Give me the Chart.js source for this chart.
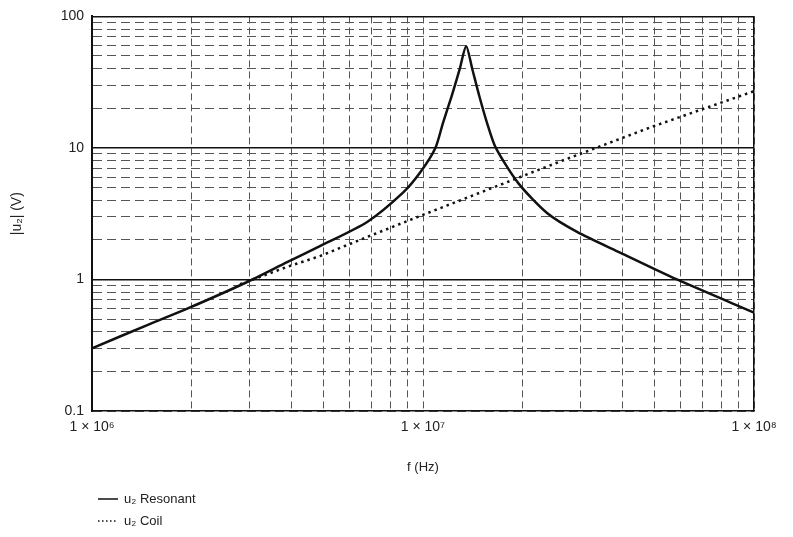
<!DOCTYPE html>
<html>
<head>
<meta charset="utf-8">
<script src="https://cdn.jsdelivr.net/npm/chart.js@4/dist/chart.umd.min.js"></script>
<style>
  html, body { margin: 0; padding: 0; background: #fff; }
  #wrap { width: 793px; height: 537px; }
</style>
</head>
<body>
<div id="wrap"><canvas id="myChart" width="793" height="537"></canvas></div>
<script>
// values (f in Hz, |u2| in V)
const resonantFreq = [1e6, 1.5e6, 1.94e6, 2.9e6, 3.9e6, 4.9e6, 6.8e6, 8.7e6, 9.8e6,
  1.09e7, 1.15e7, 1.22e7, 1.29e7, 1.35e7, 1.41e7, 1.48e7, 1.56e7, 1.66e7,
  1.94e7, 2.37e7, 2.92e7, 3.94e7, 5.85e7, 1e8];
const resonantVolt = [0.30, 0.46, 0.60, 0.94, 1.36, 1.80, 2.75, 4.57, 6.5,
  10, 15.6, 24.7, 39.5, 59.4, 39.5, 24.7, 15.6, 10,
  5.4, 3.2, 2.3, 1.6, 1.0, 0.56];
const coilFreq = [2.8e6, 3.9e6, 4.9e6, 6.8e6, 1e7, 2.6e7, 4.85e7, 1e8];
const coilVolt = [0.92, 1.25, 1.51, 2.11, 3.1, 7.9, 14.3, 27];

const xGrid = [1e6, 2e6, 3e6, 4e6, 5e6, 6e6, 7e6, 8e6, 9e6,
  1e7, 2e7, 3e7, 4e7, 5e7, 6e7, 7e7, 8e7, 9e7, 1e8];
const yGrid = [0.1, 0.2, 0.3, 0.4, 0.5, 0.6, 0.7, 0.8, 0.9,
  1, 2, 3, 4, 5, 6, 7, 8, 9,
  10, 20, 30, 40, 50, 60, 70, 80, 90, 100];
const xMajor = [1e6, 1e7, 1e8];
const xMajorLabels = ["1 × 10⁶", "1 × 10⁷", "1 × 10⁸"];
const yMajor = [0.1, 1, 10, 100];
const yMajorLabels = ["0.1", "1", "10", "100"];
// lines that are drawn solid in the original frame
const xSolid = [1e6, 1e8];
const ySolid = [1, 10, 100];

Chart.defaults.font.family = "'Liberation Sans', Arial, sans-serif";
Chart.defaults.color = "#222";

function near(list, v) {
  return list.findIndex((t) => Math.abs(t - v) / t < 1e-6);
}

const legendPlugin = {
  id: "bottomLegend",
  afterDraw(chart) {
    const ctx = chart.ctx;
    const left = chart.chartArea.left + 6;
    const rows = [chart.height - 38, chart.height - 16];
    const names = ["u₂ Resonant", "u₂ Coil"];
    chart.data.datasets.forEach((ds, i) => {
      const y = rows[i];
      ctx.save();
      ctx.strokeStyle = ds.borderColor;
      ctx.lineWidth = 1.5;
      ctx.setLineDash(ds.borderDash ? [1.5, 2.5] : []);
      ctx.beginPath();
      ctx.moveTo(left, y);
      ctx.lineTo(left + 20, y);
      ctx.stroke();
      ctx.setLineDash([]);
      ctx.fillStyle = "#222";
      ctx.font = "13px 'Liberation Sans', Arial, sans-serif";
      ctx.textBaseline = "middle";
      ctx.fillText(names[i], left + 26, y);
      ctx.restore();
    });
  },
};

new Chart(document.getElementById("myChart"), {
  type: "line",
  data: {
    datasets: [
      {
        label: "u₂ Resonant",
        data: resonantFreq.map((f, i) => ({ x: f, y: resonantVolt[i] })),
        borderColor: "#111",
        borderWidth: 2.5,
        pointRadius: 0,
        tension: 0.25,
        xAxisID: "x",
        yAxisID: "y",
      },
      {
        label: "u₂ Coil",
        data: coilFreq.map((f, i) => ({ x: f, y: coilVolt[i] })),
        borderColor: "#111",
        borderWidth: 2.5,
        borderDash: [2.5, 4],
        pointRadius: 0,
        xAxisID: "x",
        yAxisID: "y",
      },
    ],
  },
  options: {
    responsive: false,
    animation: false,
    devicePixelRatio: 1,
    layout: { padding: { left: 5, top: 9, right: 39, bottom: 58 } },
    plugins: {
      legend: { display: false },
      tooltip: { enabled: false },
    },
    scales: {
      x: {
        type: "logarithmic",
        min: 1e6,
        max: 1e8,
        afterBuildTicks: (s) => { s.ticks = xGrid.map((v) => ({ value: v })); },
        afterFit: (s) => { s.height = 68; },
        ticks: {
          autoSkip: false,
          maxRotation: 0,
          padding: 8,
          font: { size: 14 },
          callback: (v) => { const i = near(xMajor, v); return i >= 0 ? xMajorLabels[i] : ""; },
        },
        grid: { color: "#555", lineWidth: 1, drawTicks: false },
        border: { color: "#111", width: 1.5, dash: [7, 4] },
        title: { display: true, text: "f (Hz)", font: { size: 13 }, padding: 4 },
      },
      y: {
        type: "logarithmic",
        min: 0.1,
        max: 100,
        afterBuildTicks: (s) => { s.ticks = yGrid.map((v) => ({ value: v })); },
        afterFit: (s) => { s.width = 87; },
        ticks: {
          autoSkip: false,
          padding: 8,
          font: { size: 14 },
          callback: (v) => { const i = near(yMajor, v); return i >= 0 ? yMajorLabels[i] : ""; },
        },
        grid: { color: "#555", lineWidth: 1, drawTicks: false },
        border: { color: "#111", width: 2, dash: [9, 5] },
        title: { display: true, text: "|u₂| (V)", font: { size: 14 }, padding: 4 },
      },
      x2: {
        type: "logarithmic",
        axis: "x",
        position: "top",
        min: 1e6,
        max: 1e8,
        afterBuildTicks: (s) => { s.ticks = xSolid.map((v) => ({ value: v })); },
        afterFit: (s) => { s.height = 0; },
        ticks: { display: false },
        grid: { color: "#111", lineWidth: 1.5, drawTicks: false },
        border: { display: false },
      },
      y2: {
        type: "logarithmic",
        axis: "y",
        position: "right",
        min: 0.1,
        max: 100,
        afterBuildTicks: (s) => { s.ticks = ySolid.map((v) => ({ value: v })); },
        afterFit: (s) => { s.width = 0; },
        ticks: { display: false },
        grid: { color: "#111", lineWidth: 1.5, drawTicks: false },
        border: { display: false },
      },
    },
  },
  plugins: [legendPlugin],
});
</script>
</body>
</html>
